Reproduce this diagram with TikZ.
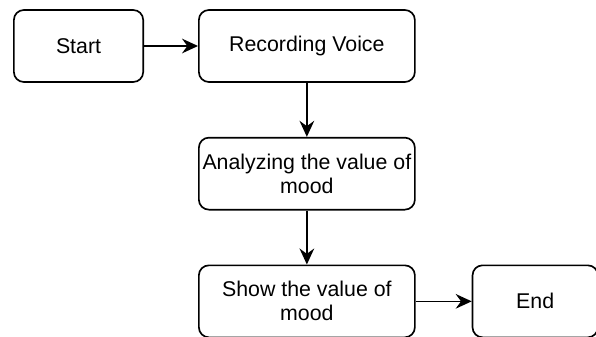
\documentclass[tikz,border=0pt]{standalone}
\usepackage{fontspec}
\setmainfont{Liberation Sans}
\usepackage{tikz}
\usetikzlibrary{shapes,arrows.meta,positioning,fit,calc}

\begin{document}
\begin{tikzpicture}[node distance=40.5pt,
    stage/.style={rectangle, draw, rounded corners=7.5pt, line width=1.25pt, minimum height=54pt, align=center, inner sep=1pt, font=\fontsize{16}{18}\selectfont},
    flow/.style={-{Stealth[length=12pt,width=11pt,inset=4pt]}, line width=1.25pt}]
    \useasboundingbox (0,0) rectangle (447pt,-252pt);
    \node (start) [stage, minimum width=97pt] at (58.9pt,-34.5pt) {Start};
    \node (record) [stage, right=of start, minimum width=162pt] {Recording Voice};
    \node (analyze) [stage, below=of record, minimum width=162pt] {Analyzing the value of\\mood};
    \node (show) [stage, below=of analyze, minimum width=162pt] {Show the value of\\mood};
    \node (finish) [stage, right=42pt of show, minimum width=94pt] {End};

    \draw [flow] (start) -- (record);
    \draw [flow] (record) -- (analyze);
    \draw [flow] (analyze) -- (show);
    \draw [flow] (show) -- (finish);
\end{tikzpicture}
\end{document}
